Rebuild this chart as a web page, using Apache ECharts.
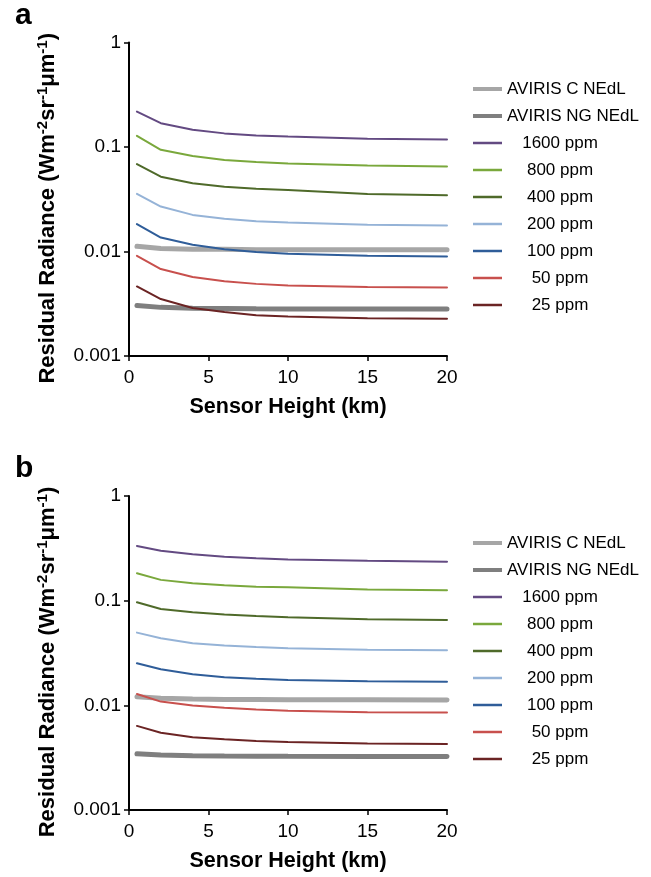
<!DOCTYPE html>
<html>
<head>
<meta charset="utf-8">
<script src="https://cdn.jsdelivr.net/npm/echarts@6/dist/echarts.min.js"></script>
<style>
html,body{margin:0;padding:0;background:#fff;}
#chart{width:651px;height:877px;}
</style>
</head>
<body>
<div id="chart"></div>
<script>
// Sensor height (km)
const heights = [0.5, 2, 4, 6, 8, 10, 15, 20];
const seriesNames = ['AVIRIS C NEdL', 'AVIRIS NG NEdL', '1600 ppm', '800 ppm', '400 ppm', '200 ppm', '100 ppm', '50 ppm', '25 ppm'];
const yTickLabels = ['0.001', '0.01', '0.1', '1'];
const xTickLabels = ['0', '5', '10', '15', '20'];

// Panel a
const a_avirisC  = [0.0112, 0.0107, 0.0105, 0.0105, 0.0104, 0.0104, 0.0104, 0.0104];
const a_avirisNG = [0.00305, 0.00292, 0.00287, 0.00285, 0.00283, 0.00282, 0.00281, 0.00281];
const a_1600 = [0.218, 0.169, 0.146, 0.135, 0.129, 0.126, 0.120, 0.118];
const a_800  = [0.128, 0.094, 0.082, 0.075, 0.072, 0.0697, 0.0665, 0.065];
const a_400  = [0.0685, 0.052, 0.0449, 0.0416, 0.0398, 0.0388, 0.0355, 0.0346];
const a_200  = [0.0356, 0.0269, 0.0224, 0.0206, 0.0195, 0.0189, 0.0180, 0.0177];
const a_100  = [0.0183, 0.0136, 0.0116, 0.0105, 0.0099, 0.0095, 0.0091, 0.00896];
const a_50   = [0.0091, 0.00679, 0.00569, 0.0052, 0.0049, 0.00473, 0.00458, 0.00453];
const a_25   = [0.00463, 0.00351, 0.00288, 0.00263, 0.00245, 0.00239, 0.0023, 0.00227];

// Panel b
const b_avirisC  = [0.0121, 0.0117, 0.0115, 0.0114, 0.0114, 0.0113, 0.0113, 0.01127];
const b_avirisNG = [0.00344, 0.00335, 0.0033, 0.00328, 0.00327, 0.00326, 0.00325, 0.00324];
const b_1600 = [0.333, 0.300, 0.277, 0.263, 0.254, 0.248, 0.240, 0.236];
const b_800  = [0.183, 0.158, 0.147, 0.140, 0.136, 0.134, 0.128, 0.126];
const b_400  = [0.0965, 0.0833, 0.0775, 0.0739, 0.0712, 0.0694, 0.0665, 0.0655];
const b_200  = [0.0495, 0.0437, 0.0392, 0.0372, 0.0360, 0.0351, 0.0340, 0.0336];
const b_100  = [0.0252, 0.0221, 0.0198, 0.0185, 0.0179, 0.0175, 0.0170, 0.01683];
const b_50   = [0.01285, 0.01086, 0.00994, 0.00946, 0.0091, 0.0089, 0.0086, 0.00853];
const b_25   = [0.00636, 0.00548, 0.00495, 0.00473, 0.00456, 0.00447, 0.00432, 0.00428];

const panelA = [a_avirisC, a_avirisNG, a_1600, a_800, a_400, a_200, a_100, a_50, a_25];
const panelB = [b_avirisC, b_avirisNG, b_1600, b_800, b_400, b_200, b_100, b_50, b_25];

const colors = ['#a6a6a6', '#7f7f7f', '#634a82', '#7aa83c', '#4f6a2a', '#95b3d7', '#2f5d99', '#c8504d', '#6b2424'];
const widths = [5, 5, 2, 2, 2, 2, 2, 2, 2];

const FONT = '"Liberation Sans", Arial, Helvetica, sans-serif';

function pair(vals) { return heights.map((h, i) => [h, vals[i]]); }

function yLabel(v) {
  const idx = Math.round(Math.log10(v)) + 3;
  return yTickLabels[idx] !== undefined ? yTickLabels[idx] : '';
}
function xLabel(v) {
  const idx = Math.round(v / 5);
  return xTickLabels[idx] !== undefined ? xTickLabels[idx] : '';
}

const yName = 'Residual Radiance (Wm{s|-2}sr{s|-1}μm{s|-1})';

function makeX(gi) {
  return {
    type: 'value', gridIndex: gi, min: 0, max: 20, interval: 5,
    name: 'Sensor Height (km)', nameLocation: 'middle', nameGap: 40,
    nameTextStyle: { fontFamily: FONT, fontSize: 21.5, fontWeight: 'bold', color: '#000' },
    axisLine: { lineStyle: { color: '#000', width: 2 } },
    axisTick: { show: true, length: 5, lineStyle: { color: '#000', width: 1.5 } },
    axisLabel: { fontFamily: FONT, fontSize: 19, color: '#000', margin: 12, formatter: xLabel },
    splitLine: { show: false }
  };
}
function makeY(gi) {
  return {
    type: 'log', logBase: 10, gridIndex: gi, min: 0.001, max: 1,
    name: yName, nameLocation: 'middle', nameGap: 68, nameRotate: 90,
    nameTextStyle: {
      fontFamily: FONT, fontSize: 22, fontWeight: 'bold', color: '#000', lineHeight: 26,
      padding: [0, 18, 0, 0],
      rich: { s: { fontFamily: FONT, fontSize: 15, fontWeight: 'bold', color: '#000', verticalAlign: 'top', lineHeight: 15 } }
    },
    axisLine: { lineStyle: { color: '#000', width: 2 } },
    axisTick: { show: true, length: 5, lineStyle: { color: '#000', width: 1.5 } },
    axisLabel: { fontFamily: FONT, fontSize: 19, color: '#000', margin: 8, formatter: yLabel },
    minorTick: { show: false },
    splitLine: { show: false }
  };
}

const THICK_ICON = 'path://M0 0H29V4H0Z';
const THIN_ICON = 'path://M0 0H29V2.5H0Z';

function makeLegend(top) {
  return {
    orient: 'vertical', left: 468, top: top,
    itemWidth: 29, itemHeight: 14, itemGap: 7,
    symbolKeepAspect: true,
    data: seriesNames.map((n, k) => ({ name: n, icon: widths[k] > 3 ? THICK_ICON : THIN_ICON })),
    selectedMode: false,
    formatter: function (name) {
      return (name.indexOf('AVIRIS') === 0 ? '{a|' : '{p|') + name + '}';
    },
    textStyle: {
      fontFamily: FONT, fontSize: 17, color: '#000', lineHeight: 20,
      rich: {
        a: { fontFamily: FONT, fontSize: 17, color: '#000', lineHeight: 20 },
        p: { fontFamily: FONT, fontSize: 17, color: '#000', lineHeight: 20, width: 106, align: 'center' }
      }
    }
  };
}

const series = [];
[panelA, panelB].forEach((panel, gi) => {
  panel.forEach((vals, k) => {
    series.push({
      name: seriesNames[k], type: 'line', xAxisIndex: gi, yAxisIndex: gi,
      data: pair(vals), symbol: 'none', smooth: false,
      lineStyle: { color: colors[k], width: widths[k], cap: 'round' },
      itemStyle: { color: colors[k] },
      silent: true, animation: false
    });
  });
});

const chart = echarts.init(document.getElementById('chart'), null, { renderer: 'canvas' });
chart.setOption({
  backgroundColor: '#fff',
  animation: false,
  color: colors,
  grid: [
    { left: 129, top: 42.5, width: 318, height: 313.5 },
    { left: 129, top: 496, width: 318, height: 314 }
  ],
  xAxis: [makeX(0), makeX(1)],
  yAxis: [makeY(0), makeY(1)],
  legend: [makeLegend(74), makeLegend(528)],
  graphic: [
    { type: 'text', left: 15, top: 1, style: { text: 'a', font: 'bold 30px ' + FONT, fill: '#000' } },
    { type: 'text', left: 15, top: 454, style: { text: 'b', font: 'bold 30px ' + FONT, fill: '#000' } }
  ],
  series: series
});
</script>
</body>
</html>
